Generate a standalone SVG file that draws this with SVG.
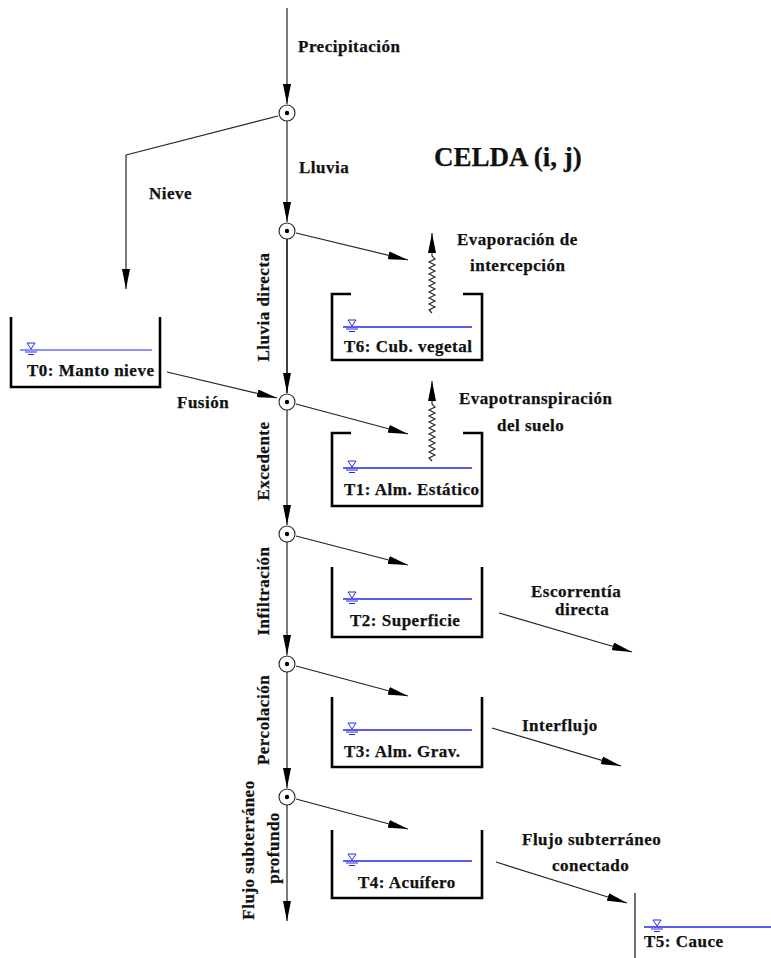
<svg xmlns="http://www.w3.org/2000/svg" width="771" height="958" viewBox="0 0 771 958">
<defs>
<style>
text{font-family:"Liberation Serif","Times New Roman",serif;font-weight:bold;font-size:17px;letter-spacing:0.5px;fill:#111;stroke:#111;stroke-width:0.25}
.ln{stroke:#222;stroke-width:1.2;fill:none}
.arr{stroke:#222;stroke-width:1.2;fill:none;marker-end:url(#ah)}
.tank{stroke:#000;stroke-width:2.6;fill:none}
.water{stroke:#2626e6;stroke-width:1.3;fill:none}
.wsym{stroke:#2626e6;stroke-width:1;fill:none}
.junc circle.o{fill:#fff;stroke:#222;stroke-width:1.1}
.junc circle.d{fill:#000}
.wave{stroke:#222;stroke-width:1.1;fill:none;marker-end:url(#ah)}
</style>
<marker id="ah" markerUnits="userSpaceOnUse" markerWidth="20" markerHeight="8" refX="20" refY="4" orient="auto">
<path d="M0,0 L20,4 L0,8 Z" fill="#000"/>
</marker>
<g id="ws">
<path d="M-4,-7 L4,-7 L0,-1 Z" class="wsym"/>
<path d="M-6,2 L6,2 M-3,4.5 L3,4.5" class="wsym"/>
</g>
<g id="jn" class="junc">
<circle class="o" r="8"/>
<circle class="d" r="2.2"/>
</g>
</defs>
<rect width="771" height="958" fill="#fff"/>

<g id="connectors">
<line class="arr" x1="287" y1="8" x2="287" y2="104"/>
<line class="arr" x1="287" y1="121" x2="287" y2="222"/>
<line class="arr" x1="287" y1="239" x2="287" y2="393" style="stroke:#000;stroke-width:1.5"/>
<line class="arr" x1="287" y1="410" x2="287" y2="525"/>
<line class="arr" x1="287" y1="542" x2="287" y2="655"/>
<line class="arr" x1="287" y1="672" x2="287" y2="788"/>
<line class="arr" x1="287" y1="805" x2="287" y2="921"/>
<polyline class="ln" points="278,116 126,155"/>
<line class="arr" x1="126" y1="155" x2="126" y2="289"/>
<line class="arr" x1="296" y1="233" x2="408" y2="260"/>
<line class="arr" x1="167" y1="372" x2="277" y2="398"/>
<line class="arr" x1="296" y1="404" x2="408" y2="434"/>
<line class="arr" x1="296" y1="536" x2="408" y2="565"/>
<line class="arr" x1="296" y1="666" x2="408" y2="696"/>
<line class="arr" x1="296" y1="799" x2="408" y2="829"/>
<line class="arr" x1="499" y1="613" x2="632" y2="652"/>
<line class="arr" x1="492" y1="728" x2="621" y2="766"/>
<line class="arr" x1="496" y1="862" x2="627" y2="903"/>
<polyline class="wave" points="432,313 429,310 435,307 429,304 435,301 429,298 435,295 429,292 435,289 429,286 435,283 429,280 435,277 429,274 435,271 429,268 435,265 429,262 435,259 432,256 432,233"/>
<polyline class="wave" transform="translate(0,148)" points="432,313 429,310 435,307 429,304 435,301 429,298 435,295 429,292 435,289 429,286 435,283 429,280 435,277 429,274 435,271 429,268 435,265 429,262 435,259 432,256 432,233"/>
</g>

<g id="junction1"><use href="#jn" x="287" y="113"/></g>
<g id="junction2"><use href="#jn" x="287" y="231"/></g>
<g id="junction3"><use href="#jn" x="287" y="402"/></g>
<g id="junction4"><use href="#jn" x="287" y="534"/></g>
<g id="junction5"><use href="#jn" x="287" y="664"/></g>
<g id="junction6"><use href="#jn" x="287" y="797"/></g>

<g id="T0">
<path class="tank" d="M11,317 L11,387 L160,387 L160,317"/>
<line class="water" x1="20" y1="350" x2="152" y2="350" style="stroke:#6a6aff"/>
<use href="#ws" x="31" y="350"/>
<text x="27" y="376">T0: Manto nieve</text>
</g>

<g id="T6">
<path class="tank" d="M351,294 L332,294 L332,360 L482,360 L482,294 L463,294"/>
<line class="water" x1="343" y1="327" x2="472" y2="327"/>
<use href="#ws" x="352" y="327"/>
<text x="344" y="352">T6: Cub. vegetal</text>
</g>

<g id="T1">
<path class="tank" d="M351,433 L332,433 L332,506 L482,506 L482,433 L463,433"/>
<line class="water" x1="343" y1="468" x2="472" y2="468"/>
<use href="#ws" x="352" y="468"/>
<text x="344" y="495">T1: Alm. Estático</text>
</g>

<g id="T2">
<path class="tank" d="M332,567 L332,637 L482,637 L482,567"/>
<line class="water" x1="343" y1="599" x2="472" y2="599"/>
<use href="#ws" x="352" y="599"/>
<text x="350" y="626">T2: Superficie</text>
</g>

<g id="T3">
<path class="tank" d="M332,697 L332,767 L482,767 L482,697"/>
<line class="water" x1="343" y1="730" x2="472" y2="730"/>
<use href="#ws" x="352" y="730"/>
<text x="344" y="757">T3: Alm. Grav.</text>
</g>

<g id="T4">
<path class="tank" d="M332,830 L332,898 L482,898 L482,830"/>
<line class="water" x1="343" y1="861" x2="472" y2="861"/>
<use href="#ws" x="352" y="861"/>
<text x="358" y="888">T4: Acuífero</text>
</g>

<g id="T5">
<line x1="635" y1="893" x2="635" y2="958" stroke="#222" stroke-width="1.3"/>
<line class="water" x1="644" y1="927" x2="771" y2="927"/>
<use href="#ws" x="657" y="927"/>
<text x="644" y="947">T5: Cauce</text>
</g>

<g id="labels">
<text x="298" y="52">Precipitación</text>
<text x="299" y="173">Lluvia</text>
<text x="149" y="199">Nieve</text>
<text x="434" y="166" style="font-size:27px;letter-spacing:0">CELDA (i, j)</text>
<text x="457" y="245">Evaporación de</text>
<text x="470" y="271">intercepción</text>
<text x="459" y="404">Evapotranspiración</text>
<text x="497" y="431">del suelo</text>
<text x="177" y="408">Fusión</text>
<text x="531" y="597">Escorrentía</text>
<text x="555" y="615">directa</text>
<text x="522" y="731">Interflujo</text>
<text x="522" y="845">Flujo subterráneo</text>
<text x="552" y="871">conectado</text>
<text transform="translate(269,307) rotate(-90)" text-anchor="middle">Lluvia directa</text>
<text transform="translate(269,461) rotate(-90)" text-anchor="middle">Excedente</text>
<text transform="translate(269,591) rotate(-90)" text-anchor="middle">Infiltración</text>
<text transform="translate(269,720) rotate(-90)" text-anchor="middle">Percolación</text>
<text transform="translate(254,850) rotate(-90)" text-anchor="middle">Flujo subterráneo</text>
<text transform="translate(279,848) rotate(-90)" text-anchor="middle">profundo</text>
</g>
</svg>
